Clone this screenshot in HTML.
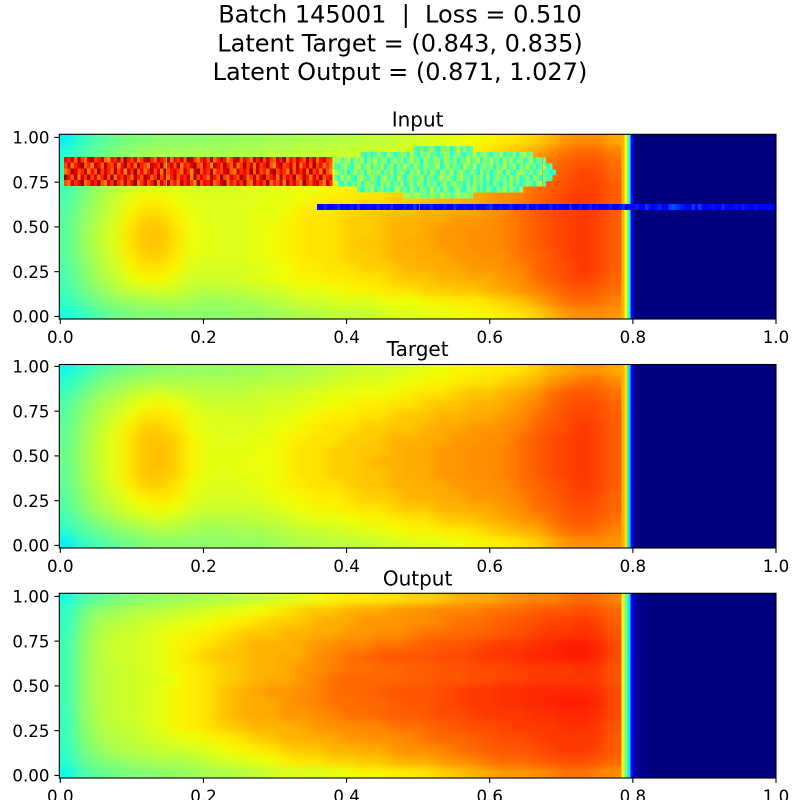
<!DOCTYPE html>
<html>
<head>
<meta charset="utf-8">
<title>Batch 145001 heatmaps</title>
<style>
html,body{margin:0;padding:0;background:#fff;width:800px;height:800px;overflow:hidden}
svg{display:block}
text{font-family:"DejaVu Sans","Liberation Sans",sans-serif;fill:#000;white-space:pre}
.tick{font-size:16.67px}
.ptitle{font-size:20px;text-anchor:middle}
.sup{font-size:24px;text-anchor:middle}
</style>
</head>
<body>
<svg id="fig" xmlns="http://www.w3.org/2000/svg" width="800" height="800" viewBox="0 0 800 800">
<defs>
<filter id="soft" x="-5%" y="-5%" width="110%" height="110%" color-interpolation-filters="sRGB"><feGaussianBlur stdDeviation="6 3.5"/></filter>
</defs>
<rect width="800" height="800" fill="#fff"/>
<text class="sup" x="400" y="22.5">Batch 145001  |  Loss = 0.510</text>
<text class="sup" x="400" y="51.3">Latent Target = (0.843, 0.835)</text>
<text class="sup" x="400" y="80">Latent Output = (0.871, 1.027)</text>
</svg>
<script>
// Values are eyeballed estimates (x100 on the jet scale) on a coarse 16 x 36 grid.
const xTickLabels = ["0.0","0.2","0.4","0.6","0.8","1.0"];
const yTickLabels = ["0.00","0.25","0.50","0.75","1.00"];

const inputValues = [
[36,41,45,48,50,51,52,52,52,53,53,54,54,55,55,56,56,57,57,58,58,59,60,61,62,63,64,65,66,67,69,72,75,76,76,73],
[39,44,47,50,52,54,55,55,55,55,55,56,56,57,57,58,58,59,59,60,60,61,62,63,64,65,66,67,69,70,73,76,79,80,80,77],
[41,46,50,53,55,57,57,57,57,57,57,58,58,59,59,60,60,61,61,62,62,63,64,65,66,67,69,70,72,73,76,79,81,82,82,79],
[42,48,52,55,57,59,60,60,59,59,59,59,60,60,61,61,62,63,63,64,64,65,66,67,67,69,70,72,73,75,77,80,82,84,83,80],
[43,49,54,57,60,61,62,62,61,61,61,61,62,62,62,63,64,65,65,66,66,67,69,69,70,70,72,73,75,76,79,81,83,84,84,81],
[44,50,55,59,63,65,65,64,62,62,62,62,62,63,63,64,65,66,66,67,67,69,69,70,72,72,73,75,76,77,80,82,84,85,84,81],
[45,51,56,60,65,67,67,65,63,62,62,62,63,63,64,66,66,67,67,69,69,70,70,72,72,73,73,75,76,79,81,83,84,85,84,81],
[46,52,57,61,66,69,69,66,64,62,62,62,63,63,65,66,67,67,69,69,70,72,72,73,73,75,75,76,77,79,81,83,84,85,84,81],
[46,53,58,62,67,70,70,67,64,63,62,62,63,64,65,66,67,67,69,69,70,72,72,73,75,75,76,76,77,79,81,83,84,85,84,81],
[46,53,58,62,67,70,70,67,64,63,62,62,63,64,65,66,67,67,69,70,70,72,73,73,75,75,76,76,77,79,81,83,84,85,84,81],
[46,52,57,61,66,69,69,66,63,62,62,62,63,64,65,66,67,67,69,69,70,72,72,73,73,75,75,76,76,79,80,82,84,85,84,81],
[45,51,56,60,65,67,67,65,62,61,61,61,62,63,64,66,66,67,67,69,69,70,72,72,73,73,75,75,76,77,80,82,83,85,84,81],
[44,50,55,58,63,65,65,63,60,60,60,61,62,63,64,65,65,66,66,67,67,69,70,70,72,72,73,73,75,76,79,81,83,84,83,80],
[43,48,52,56,59,60,61,60,58,57,58,58,59,60,61,63,63,64,65,65,66,67,67,69,69,70,70,72,73,75,77,79,81,82,81,79],
[41,45,49,52,54,55,56,56,55,54,54,55,55,57,58,60,60,61,62,62,63,64,64,65,65,66,66,67,69,70,73,76,79,80,79,77],
[38,42,45,48,50,51,51,52,52,52,52,53,53,54,55,56,57,58,58,59,60,62,62,63,63,64,65,65,66,67,69,72,75,76,76,75]
];

const targetValues = [
[37,41,45,48,50,51,52,52,53,53,53,54,54,55,55,56,57,58,59,60,60,61,62,63,64,65,65,66,66,67,69,72,73,75,75,73],
[40,45,49,52,54,56,56,56,56,56,56,56,57,57,58,58,59,60,61,62,62,63,64,65,65,66,67,67,69,70,72,75,77,79,79,76],
[43,48,52,55,58,60,61,60,59,58,58,58,59,60,60,61,62,63,63,64,64,65,66,67,67,69,70,70,72,73,75,79,81,82,81,79],
[45,51,55,58,62,64,65,64,62,60,60,60,60,61,61,62,63,64,65,66,66,67,67,69,70,70,72,72,73,75,77,80,82,83,83,80],
[46,52,57,60,64,67,67,66,63,62,61,61,61,62,63,64,65,66,66,67,67,69,70,70,72,72,73,73,75,76,79,81,83,84,83,81],
[47,53,58,62,66,69,69,67,64,62,62,62,62,63,64,65,66,67,67,69,69,70,70,72,73,73,75,75,76,77,80,82,83,85,84,81],
[47,54,59,63,67,70,70,69,65,63,62,62,63,63,65,66,67,67,69,69,70,72,72,73,73,75,75,76,76,79,81,83,84,85,84,81],
[48,54,59,63,67,70,71,69,65,63,63,63,63,64,65,67,67,69,69,70,70,72,73,73,75,75,76,76,77,79,81,83,84,85,84,81],
[48,54,59,63,67,70,71,69,65,63,63,63,64,64,65,67,67,69,69,70,72,72,73,73,75,75,76,76,77,79,81,83,84,85,84,81],
[47,54,59,63,67,70,70,69,65,63,62,63,63,64,65,67,67,69,69,70,70,72,73,73,75,75,76,76,77,79,81,83,84,85,84,81],
[47,53,58,62,66,69,69,67,64,62,62,62,63,64,65,66,67,67,69,70,70,72,72,73,73,75,75,76,76,79,80,82,83,85,84,81],
[46,52,57,60,64,66,67,66,63,61,61,61,62,63,64,65,66,66,67,69,69,70,72,72,73,73,75,75,76,77,80,81,83,84,83,80],
[45,51,55,58,62,64,65,64,61,60,60,60,60,61,63,64,65,65,66,67,67,69,70,70,72,72,73,73,75,76,79,80,82,83,82,80],
[43,48,52,55,58,60,61,60,58,57,57,57,58,59,60,62,63,63,64,65,65,66,67,67,69,70,70,72,73,75,76,79,81,82,81,79],
[40,45,48,51,53,55,56,56,55,54,54,55,55,56,57,59,59,60,61,62,63,64,65,65,66,66,67,69,70,72,73,76,79,80,79,77],
[36,41,44,47,49,51,52,52,52,52,53,53,53,54,55,56,57,58,58,59,60,61,62,63,63,64,65,65,66,67,69,72,75,76,76,75]
];

const outputValues = [
[38,44,47,49,51,52,53,54,55,56,57,58,59,60,62,63,64,65,66,66,67,67,69,69,70,72,73,73,75,76,77,77,79,80,79,77],
[41,48,52,54,56,57,58,58,60,61,62,63,64,65,67,69,70,70,72,73,73,75,75,76,77,77,77,79,79,80,81,82,82,83,82,80],
[41,50,55,57,58,60,61,62,63,64,65,66,67,69,69,70,72,73,73,75,75,75,76,76,77,79,79,80,81,82,83,84,84,85,84,81],
[42,51,56,59,60,61,63,64,65,66,67,69,70,70,72,72,73,73,75,75,76,76,77,79,79,80,80,81,82,83,84,85,85,86,85,82],
[43,52,57,60,60,61,63,65,66,67,69,70,72,72,72,73,75,76,77,77,79,79,80,81,82,82,83,84,85,85,86,87,88,88,87,83],
[43,52,57,60,60,61,63,65,67,69,70,70,72,72,73,73,76,77,79,80,81,82,82,82,83,83,84,85,85,86,87,87,88,88,87,83],
[43,52,57,59,60,61,63,65,66,67,69,70,72,72,73,75,76,77,79,79,80,80,81,81,82,82,83,83,84,84,85,85,85,86,85,82],
[43,52,57,59,60,61,62,64,66,67,69,70,72,73,73,75,77,79,80,80,80,80,81,81,82,82,83,83,84,84,85,85,85,85,85,82],
[43,52,57,59,60,61,63,65,66,67,70,72,73,75,75,76,77,79,80,80,81,82,82,82,83,84,85,85,86,86,87,87,87,87,86,83],
[43,52,57,59,60,61,63,65,66,67,70,72,73,73,75,76,77,79,79,80,80,81,82,82,83,84,85,85,86,86,87,87,88,88,87,83],
[42,52,56,59,60,61,63,65,66,67,70,72,73,73,75,75,76,77,79,79,80,81,81,82,83,83,84,85,85,85,86,86,87,87,86,83],
[42,51,56,58,59,61,63,65,66,67,69,70,72,72,72,73,75,76,76,77,77,79,79,80,81,82,83,83,84,85,85,85,86,86,85,82],
[42,50,55,57,58,60,61,63,64,65,66,67,69,70,72,72,73,73,75,75,76,76,77,79,80,80,81,82,83,83,84,85,85,85,85,81],
[41,49,53,56,57,58,59,60,61,62,64,65,66,67,69,70,70,72,72,73,73,75,76,76,77,79,80,81,82,82,83,84,85,85,84,81],
[40,47,50,52,54,55,56,56,57,59,61,62,63,64,66,67,67,69,69,70,70,72,73,73,75,76,77,79,80,80,81,82,83,83,82,80],
[37,44,47,49,50,51,52,53,54,55,56,57,58,60,61,62,62,63,64,65,65,66,66,67,69,70,72,73,75,75,76,77,79,79,77,76]
];

const inputFront = [72,64,40,11];
const targetFront = [72,67,35,11];
const outputFront = [62,50,36,12,3,2,1,1];

const redStrip = [
[90,87,92,80,95,85,78,91,96,84,88,93,79,76,90,86,94,82,97,89,83,91,78,85,93,96,87,80,92,88,84,95,79,90,86,92,81,97,94,85,78,88,91,83,96,80,87,93,89,76,84,92,95,82,90,86,79,94,88,97,83,91,85,80,93,87,96,78,90,84,92,88,81,95,86,93,79,89,91,84,82],
[84,93,79,88,91,97,82,86,78,94,90,81,96,87,83,92,77,89,95,85,91,80,97,88,84,76,93,90,86,96,79,87,92,82,95,78,89,85,91,97,84,80,93,87,76,94,90,83,96,88,81,92,78,86,97,84,91,79,93,85,89,95,82,76,90,96,84,87,92,80,94,78,88,91,83,97,85,90,79,86,80],
[78,85,96,91,83,87,94,79,90,82,97,85,92,88,80,95,84,91,76,93,86,97,82,90,79,88,95,84,92,78,96,83,89,91,85,80,94,87,76,92,97,83,90,86,95,79,88,84,91,96,82,78,93,87,90,85,97,81,94,83,88,79,92,96,84,90,86,78,95,82,91,87,93,80,96,85,89,78,94,83,76],
[97,89,82,94,78,92,86,96,84,91,80,88,95,83,97,79,90,85,92,87,78,94,89,83,96,91,80,87,97,84,92,79,88,95,82,90,86,93,78,96,84,91,87,80,94,89,82,97,85,79,92,88,83,96,90,78,86,94,81,91,97,84,88,92,79,95,83,90,87,96,80,85,93,89,78,91,84,96,82,87,90],
[83,77,91,86,90,97,79,84,92,88,95,82,78,91,85,96,87,80,93,84,90,97,79,86,92,83,88,95,78,91,84,96,82,89,80,93,87,91,85,76,96,83,90,88,94,80,85,92,97,78,89,84,91,86,95,82,79,93,87,90,84,97,80,88,83,92,78,95,86,91,84,79,97,88,83,90,92,85,78,94,86]
];

const greenBlob = [
[0,0,0,0,0,0,0,0,0,0,0,0,0,0,0,0,0,0,0,0,0,0,0,0,46,42,51,41,48,54,45,39,50,47,53,40,49,56,45,51,43,48],
[0,0,0,0,0,0,0,0,46,40,48,39,44,52,47,41,56,49,40,45,54,50,41,58,46,39,52,48,55,44,50,40,47,56,51,41,49,54,45,39,52,47,57,44,50,55,46,40,51,48,56,41,49,45,54,39,52,58,47,50],
[53,56,45,51,57,41,54,49,56,40,52,47,59,44,51,55,39,48,56,45,53,40,50,58,46,52,39,55,48,44,56,51,41,57,49,45,54,39,52,47,59,44,50,56,40,53,48,55,45,51,39,57,46,54,41,50,52,40,47,56,39,51,44,48],
[45,41,50,56,47,39,53,58,44,49,55,40,51,46,57,41,48,54,39,52,45,59,47,41,56,50,40,54,48,45,51,57,39,49,55,44,52,47,40,56,50,45,58,39,48,53,44,55,40,51,47,57,41,49,54,39,52,46,56,44,50,40,48,54,41,46],
[57,51,44,54,39,48,56,45,52,40,59,47,50,55,41,51,46,58,40,49,54,45,39,53,48,56,44,51,41,57,47,40,54,49,45,58,39,50,55,46,41,52,48,39,56,44,51,40,47,54,49,41,57,45,39,52,56,48,44,51,40,49,55,45,47,39,41],
[49,40,55,47,53,44,39,51,57,46,41,54,48,39,52,56,45,50,41,58,47,40,55,51,44,49,57,39,53,46,40,50,56,45,54,48,39,52,58,44,49,40,55,47,51,41,56,39,48,53,45,50,40,57,44,54,39,47,51,41,56,48,40,50,45,44],
[0,48,41,54,39,50,45,57,40,51,56,44,48,39,53,47,55,40,50,44,58,39,46,52,41,56,49,40,54,45,51,39,47,57,41,50,55,44,48,40,53,39,56,46,51,41,49,39,54,45,40,52,47,56,41,50,39,45,53,48,40,51,55,44],
[0,0,0,0,0,0,0,48,40,51,45,56,39,49,54,41,47,39,52,57,44,50,40,55,46,39,53,48,41,58,45,51,39,56,47,40,50,54,44,39,52,48,56,41,49,40,54,46,39,51,45,57,41,50,48,40,54],
[0,0,0,0,0,0,0,0,0,0,0,0,0,0,0,0,0,0,0,0,0,52,56,49,54,58,47,51,44,55,50,46,57,48,53,45,51,56,48,54,50,47]
];

const blueLine = [
13,11,16,12,11,14,17,11,13,12,15,11,18,12,11,14,13,11,16,12,14,11,17,
13,11,12,15,11,13,18,12,11,14,11,16,12,13,11,15,11,12,17,13,11,14,12,
11,16,13,12,11,15,18,11,12,14,11,13,16,11,12,14,13,17,11,12,15,11,13,
12,16,11,14,13,11,12,17,13,11,15,12,13,16,11,14,12,11,13,15,12,11,14,
17,12,11,13,15,11,12,18,13,11,14,16,12,11,19,20,18,16,14,11,12,18,11,
19,12,11,13,14,12,11,17,13,11,12,14,11,15,13,11,12,14,13,11,12,13,11
];

const xDataMin = -0.0014;
const hotEnd = 0.7841;
const frontWidth = 0.00419;
const fineWidth = 0.00463;
const fineHeight = 0.0325;
const SVGNS = 'http://www.w3.org/2000/svg';
const fig = document.getElementById('fig');

function jet(v){
  function seg(p){
    for(let i=1;i<p.length;i++){
      if(v<=p[i][0]){
        const t=(v-p[i-1][0])/(p[i][0]-p[i-1][0]);
        return p[i-1][1]+t*(p[i][1]-p[i-1][1]);
      }
    }
    return p[p.length-1][1];
  }
  const r=seg([[0,0],[0.35,0],[0.66,1],[0.89,1],[1,0.5]]);
  const g=seg([[0,0],[0.125,0],[0.375,1],[0.64,1],[0.91,0],[1,0]]);
  const b=seg([[0,0.5],[0.11,1],[0.34,1],[0.65,0],[1,0]]);
  return 'rgb('+Math.round(r*255)+','+Math.round(g*255)+','+Math.round(b*255)+')';
}
function xPos(x){return 60.3+x*715.7;}
function makePanelY(bottom){
  return function(y){return bottom-2.6-y*179;};
}
function addCell(parent,x0,x1,yTop,yBottom,value){
  const el=document.createElementNS(SVGNS,'rect');
  
  
  el.setAttribute('x',x0.toFixed(2));
  el.setAttribute('y',yTop.toFixed(2));
  el.setAttribute('width',(x1-x0+0.4).toFixed(2));
  el.setAttribute('height',(yBottom-yTop+0.4).toFixed(2));
  el.setAttribute('fill',jet(value/100));
  el.setAttribute('shape-rendering','crispEdges');
  parent.appendChild(el);
  return el;
}
function addFineRow(parent,values,xStart,yTopPx,heightPx){
  for(let i=0;i<values.length;i++){
    if(values[i]===0) continue;
    addCell(parent,xPos(xStart+i*fineWidth),xPos(xStart+(i+1)*fineWidth)-0.4,yTopPx,yTopPx+heightPx-0.4,values[i]);
  }
}
function drawPanel(key,label,top,bottom,titleY,values,front){
  const panel=document.createElementNS(SVGNS,'g');
  
  
  fig.appendChild(panel);
  const left=59.3,right=776;
  const yPos=makePanelY(bottom);

  const clip=document.createElementNS(SVGNS,'clipPath');
  clip.setAttribute('id','hot-clip-'+key);
  
  
  const clipRect=document.createElementNS(SVGNS,'rect');
  
  
  clipRect.setAttribute('x',left);
  clipRect.setAttribute('y',top);
  clipRect.setAttribute('width',xPos(hotEnd)-left);
  clipRect.setAttribute('height',bottom-top);
  clip.appendChild(clipRect);
  panel.appendChild(clip);

  addCell(panel,xPos(hotEnd),right-0.4,top,bottom-0.4,0);

  const hotWrap=document.createElementNS(SVGNS,'g');
  
  
  hotWrap.setAttribute('clip-path','url(#hot-clip-'+key+')');
  panel.appendChild(hotWrap);
  const cells=document.createElementNS(SVGNS,'g');
  cells.setAttribute('id','hot-cells-'+key);
  
  
  hotWrap.appendChild(cells);
  const nRows=values.length,nCols=values[0].length;
  const dx=(hotEnd-xDataMin)/nCols,rowH=(bottom-top)/nRows;
  for(let r=0;r<nRows;r++){
    for(let c=0;c<nCols;c++){
      addCell(cells,xPos(xDataMin+c*dx),xPos(xDataMin+(c+1)*dx),top+r*rowH,top+(r+1)*rowH,values[r][c]);
    }
  }
  const blurred=document.createElementNS(SVGNS,'use');
  
  
  blurred.setAttribute('href','#hot-cells-'+key);
  blurred.setAttribute('filter','url(#soft)');
  hotWrap.appendChild(blurred);

  for(let i=0;i<front.length;i++){
    addCell(panel,xPos(hotEnd+i*frontWidth),xPos(hotEnd+(i+1)*frontWidth)-0.4,top,bottom-0.4,front[i]);
  }

  if(key==='input'){
    const overlay=document.createElementNS(SVGNS,'g');
    
    
    panel.appendChild(overlay);
    const rowPx=fineHeight*179;
    redStrip.forEach(function(row,i){addFineRow(overlay,row,0.0052,yPos(0.891)+i*rowPx,rowPx);});
    greenBlob.forEach(function(row,i){addFineRow(overlay,row,0.3824,yPos(0.952)+i*rowPx,rowPx);});
    addFineRow(overlay,blueLine,0.3587,yPos(0.628),rowPx);
  }

  const frame=document.createElementNS(SVGNS,'rect');
  
  
  frame.setAttribute('x',left);
  frame.setAttribute('y',top);
  frame.setAttribute('width',right-left);
  frame.setAttribute('height',bottom-top);
  frame.setAttribute('fill','none');
  frame.setAttribute('stroke','#000');
  frame.setAttribute('stroke-width','1.1');
  panel.appendChild(frame);

  xTickLabels.forEach(function(t){
    const x=xPos(parseFloat(t));
    const line=document.createElementNS(SVGNS,'line');
    
    
    line.setAttribute('x1',x);
    line.setAttribute('x2',x);
    line.setAttribute('y1',bottom);
    line.setAttribute('y2',bottom+4.9);
    line.setAttribute('stroke','#000');
    line.setAttribute('stroke-width','1.1');
    panel.appendChild(line);
    const txt=document.createElementNS(SVGNS,'text');
    
    
    txt.setAttribute('class','tick');
    txt.setAttribute('x',x);
    txt.setAttribute('y',bottom+23.8);
    txt.setAttribute('text-anchor','middle');
    txt.textContent=t;
    panel.appendChild(txt);
  });
  yTickLabels.forEach(function(t){
    const y=yPos(parseFloat(t));
    const line=document.createElementNS(SVGNS,'line');
    
    
    line.setAttribute('x1',left-4.9);
    line.setAttribute('x2',left);
    line.setAttribute('y1',y);
    line.setAttribute('y2',y);
    line.setAttribute('stroke','#000');
    line.setAttribute('stroke-width','1.1');
    panel.appendChild(line);
    const txt=document.createElementNS(SVGNS,'text');
    
    
    txt.setAttribute('class','tick');
    txt.setAttribute('x',left-9.8);
    txt.setAttribute('y',y+6.2);
    txt.setAttribute('text-anchor','end');
    txt.textContent=t;
    panel.appendChild(txt);
  });
  const title=document.createElementNS(SVGNS,'text');
  
  
  title.setAttribute('class','ptitle');
  title.setAttribute('x',417.6);
  title.setAttribute('y',titleY);
  title.textContent=label;
  panel.appendChild(title);
}
drawPanel('input','Input',134.3,319,126.7,inputValues,inputFront);
drawPanel('target','Target',364.5,548,356.2,targetValues,targetFront);
drawPanel('output','Output',593.3,778,585.5,outputValues,outputFront);
</script>
</body>
</html>
